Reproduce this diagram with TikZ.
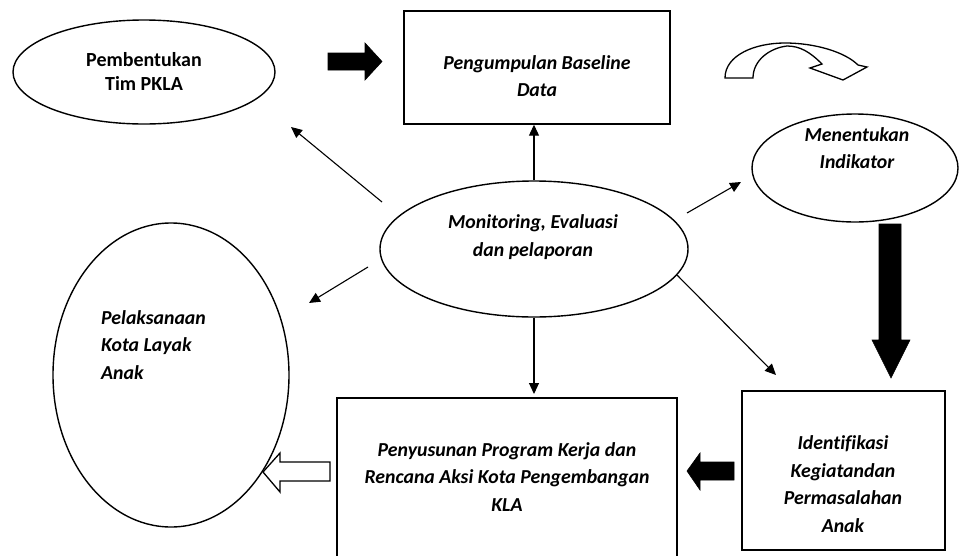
\documentclass[tikz,border=0pt]{standalone}
\usepackage{fontspec}
\setmainfont{Carlito}[Ligatures=NoCommon]
\usetikzlibrary{shapes.geometric,arrows.meta}
\begin{document}
\begin{tikzpicture}[x=1pt,y=-1pt,
  shp/.style={draw, line width=1.4pt, inner sep=0pt},
  ell/.style={shp, ellipse},
  txt/.style={font=\fontsize{19.8}{27.5}\selectfont\bfseries\itshape, align=center, inner sep=0pt},
  txtup/.style={font=\fontsize{20}{24}\selectfont\bfseries, align=center, inner sep=0pt},
  arr/.style={line width=1.1pt, -{Triangle[length=11pt,width=10pt]}},
  blk/.style={fill=black, draw=black, line width=0.6pt, line join=miter},
  wht/.style={fill=white, draw=black, line width=1.3pt, line join=miter}]
\useasboundingbox (0,0) rectangle (959,555);
\clip (0,0) rectangle (959,555);
% shapes
\node[ell, minimum width=262pt, minimum height=104pt] (pem) at (144,72) {};
\node[txtup] (pemt) at (144,71) {Pembentukan\\Tim PKLA};
\node[shp, minimum width=266pt, minimum height=113pt] (peng) at (537,67.5) {};
\node[txt] (pengt) at (537,76) {Pengumpulan Baseline\\Data};
\node[ell, minimum width=206pt, minimum height=108pt] (men) at (855,168) {};
\node[txt] (ment) at (857,148) {Menentukan\\Indikator};
\node[ell, minimum width=308pt, minimum height=136pt] (mon) at (534,249) {};
\node[txt] (mont) at (533,237) {Monitoring, Evaluasi\\dan pelaporan};
\node[ell, minimum width=236pt, minimum height=304pt] (pel) at (171,375) {};
\node[txt, align=left, anchor=west] (pelt) at (101,345) {Pelaksanaan\\Kota Layak\\Anak};
\node[shp, minimum width=340pt, minimum height=177pt] (pen) at (507,486.5) {};
\node[txt] (pent) at (507,477) {Penyusunan Program Kerja dan\\Rencana Aksi Kota Pengembangan\\KLA};
\node[shp, minimum width=203pt, minimum height=159pt] (ide) at (843.5,470.5) {};
\node[txt] (idet) at (843,484) {Identifikasi\\Kegiatandan\\Permasalahan\\Anak};
% connector ends
\coordinate (a1s) at (382,202); \coordinate (a1e) at (291,127);
\coordinate (a3s) at (687,213); \coordinate (a3e) at (741,182);
\coordinate (a4s) at (368,267); \coordinate (a4e) at (309,303);
\coordinate (a5e) at (534,394);
\coordinate (a6s) at (677,275); \coordinate (a6e) at (776,375);
\draw[arr] (a1s) -- (a1e);
\draw[arr] (mon.north) -- (mon.north |- peng.south);
\draw[arr] (a3s) -- (a3e);
\draw[arr] (a4s) -- (a4e);
\draw[arr] (mon.south) -- (a5e);
\draw[arr] (a6s) -- (a6e);
% block arrows
\draw[blk] (328,53) -- (365,53) -- (365,43) -- (382,61.5) -- (365,80) -- (365,70) -- (328,70) -- cycle;
\draw[blk] (879,224) -- (901,224) -- (901,340) -- (910,340) -- (891,378) -- (872,340) -- (879,340) -- cycle;
\draw[blk] (734,462) -- (700,462) -- (700,453) -- (687,471) -- (700,490) -- (700,480) -- (734,480) -- cycle;
\draw[wht] (330,462) -- (280,462) -- (280,453) -- (263,472) -- (280,492) -- (280,481) -- (330,481) -- cycle;
% curved arrow
\draw[wht] (725,78) .. controls (725,55) and (755,43) .. (785,43)
  .. controls (815,43) and (845,52) .. (858,65) -- (867,67) -- (843,80) -- (810,68) -- (822,64)
  .. controls (810,52) and (800,46) .. (787,46)
  .. controls (770,48) and (753,60) .. (753,78) -- cycle;
\end{tikzpicture}
\end{document}
